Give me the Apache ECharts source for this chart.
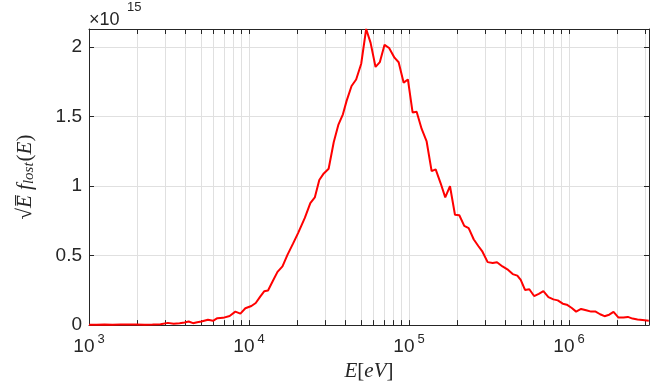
<!DOCTYPE html>
<html>
<head>
<meta charset="utf-8">
<script src="https://cdn.jsdelivr.net/npm/echarts@6/dist/echarts.min.js"></script>
<style>
html,body{margin:0;padding:0;background:#fff;}
#chart{width:665px;height:387px;}
</style>
</head>
<body>
<div id="chart"></div>
<script>
// Energy grid (eV)
const energy = [1000, 1114, 1250, 1403, 1574, 1766, 1982, 2223, 2495, 2799,
  3112, 3380, 3683, 3962, 4198, 4467, 4746, 5039, 5539, 5955,
  6343, 6877, 7568, 8217, 8834, 9492, 10350, 11020, 11750, 12440,
  13150, 14060, 15070, 16190, 17390, 18840, 20260, 22330, 24170, 25780,
  27500, 29330, 31460, 33870, 36160, 38630, 40740, 43750, 46740, 50270,
  53990, 57540, 61790, 65750, 70340, 75120, 81150, 86160, 92590, 98420,
  105300, 111600, 120000, 128900, 138500, 146800, 157700, 168500, 180400, 193800,
  206300, 221500, 236000, 254100, 271100, 287900, 310200, 333500, 354800, 384000,
  411900, 444800, 475400, 499300, 531000, 564900, 605200, 647400, 691800, 743500,
  798900, 850800, 914400, 968500, 1041000, 1108000, 1190000, 1280000, 1375000, 1467000,
  1565000, 1667000, 1784000, 1898000, 2039000, 2190000, 2333000, 2494000, 2680000, 2878000,
  3155000];
// sqrt(E) f_lost(E), in units of 1e15
const flux = [0.003, 0.002, 0.004, 0.003, 0.005, 0.004, 0.005, 0.003, 0.004, 0.006,
  0.016, 0.010, 0.014, 0.019, 0.026, 0.014, 0.020, 0.026, 0.038, 0.031,
  0.050, 0.052, 0.066, 0.097, 0.083, 0.121, 0.137, 0.159, 0.205, 0.243,
  0.249, 0.315, 0.383, 0.422, 0.505, 0.586, 0.662, 0.771, 0.878, 0.918,
  1.044, 1.091, 1.125, 1.317, 1.440, 1.516, 1.613, 1.720, 1.767, 1.880,
  2.130, 2.030, 1.857, 1.892, 2.016, 1.993, 1.924, 1.891, 1.744, 1.767,
  1.530, 1.535, 1.411, 1.321, 1.108, 1.120, 1.020, 0.919, 0.999, 0.794,
  0.790, 0.714, 0.698, 0.616, 0.569, 0.528, 0.453, 0.447, 0.452, 0.422,
  0.401, 0.367, 0.356, 0.325, 0.253, 0.258, 0.209, 0.225, 0.244, 0.201,
  0.185, 0.178, 0.154, 0.147, 0.123, 0.097, 0.116, 0.107, 0.097, 0.097,
  0.078, 0.064, 0.075, 0.095, 0.054, 0.054, 0.059, 0.047, 0.040, 0.036,
  0.031];
const xLabelValues = [1000, 10000, 100000, 1000000];
const xTickValues = [1000, 2000, 3000, 4000, 5000, 6000, 7000, 8000, 9000,
  10000, 20000, 30000, 40000, 50000, 60000, 70000, 80000, 90000,
  100000, 200000, 300000, 400000, 500000, 600000, 700000, 800000, 900000,
  1000000, 2000000, 3000000];
const yTickValues = [0, 0.5, 1, 1.5, 2];
const xMin = 1000, xMax = 3162278, yMin = 0, yMax = 2.13;

const txt = '#262626';
const gridColor = '#e0e0e0';
const sans = "Liberation Sans";
const serif = "Liberation Serif";

const chart = echarts.init(document.getElementById('chart'), null, {renderer: 'canvas'});

function xFmt(v) {
  const e = Math.round(Math.log10(v));
  return '{b|10}{e|' + e + '}';
}

const tickStyle = {color: txt, width: 1};

const option = {
  animation: false,
  backgroundColor: '#fff',
  textStyle: {fontFamily: sans},
  grid: {left: 89, right: 16, top: 29, bottom: 59, containLabel: false},
  xAxis: [{
    type: 'log', logBase: 10, min: xMin, max: xMax, position: 'bottom',
    axisLine: {show: true, onZero: false, lineStyle: {color: txt, width: 1}},
    axisTick: {show: true, inside: true, length: 5, customValues: xTickValues, lineStyle: tickStyle},
    minorTick: {show: false},
    splitLine: {show: true, lineStyle: {color: gridColor, width: 1}},
    axisLabel: {
      customValues: xLabelValues, margin: 8, color: txt, formatter: xFmt,
      fontFamily: sans, fontSize: 19,
      showMinLabel: true, showMaxLabel: true, hideOverlap: false,
      rich: {
        b: {fontSize: 19, fontFamily: sans, color: txt},
        e: {fontSize: 13, fontFamily: sans, color: txt, padding: [0, 0, 14, 3]}
      }
    },
    name: '{i|E}{n|[}{i|eV}{n|]}',
    nameLocation: 'middle', nameGap: 32,
    nameTextStyle: {
      rich: {
        i: {fontSize: 21, fontFamily: serif, fontStyle: 'italic', color: txt},
        n: {fontSize: 21, fontFamily: serif, color: txt}
      }
    }
  }, {
    type: 'log', logBase: 10, min: xMin, max: xMax, position: 'top',
    axisLine: {show: true, onZero: false, lineStyle: {color: txt, width: 1}},
    axisTick: {show: true, inside: true, length: 5, customValues: xTickValues, lineStyle: tickStyle},
    axisLabel: {show: false},
    splitLine: {show: false}
  }],
  yAxis: [{
    type: 'value', min: yMin, max: yMax, position: 'left',
    axisLine: {show: true, onZero: false, lineStyle: {color: txt, width: 1}},
    axisTick: {show: true, inside: true, length: 5, customValues: yTickValues, lineStyle: tickStyle},
    splitLine: {show: true, lineStyle: {color: gridColor, width: 1}},
    axisLabel: {customValues: yTickValues, margin: 7, color: txt, fontSize: 19, fontFamily: sans},
    name: '{n|\u221A}{i|E\u0305}{n| }{i|f}{s|lost}{n|(}{i|E}{n|)}',
    nameLocation: 'middle', nameRotate: 90, nameGap: 52,
    nameTextStyle: {
      rich: {
        i: {fontSize: 21, fontFamily: serif, fontStyle: 'italic', color: txt},
        n: {fontSize: 21, fontFamily: serif, color: txt},
        s: {fontSize: 15, fontFamily: serif, fontStyle: 'italic', color: txt, padding: [9, 1, 0, 0]}
      }
    }
  }, {
    type: 'value', min: yMin, max: yMax, position: 'right',
    axisLine: {show: true, onZero: false, lineStyle: {color: txt, width: 1}},
    axisTick: {show: true, inside: true, length: 5, customValues: yTickValues, lineStyle: tickStyle},
    axisLabel: {show: false},
    splitLine: {show: false}
  }],
  graphic: [{
    type: 'text', left: 89, top: 11,
    style: {text: '\u00D710', fontSize: 18, fontFamily: sans, fill: txt}
  }, {
    type: 'text', left: 127, top: 1,
    style: {text: '15', fontSize: 13, fontFamily: sans, fill: txt}
  }],
  series: [{
    type: 'line',
    xAxisIndex: 0, yAxisIndex: 0,
    data: energy.map((e, i) => [e, flux[i]]),
    showSymbol: false, symbol: 'none',
    lineStyle: {color: '#ff0000', width: 2},
    itemStyle: {color: '#ff0000'},
    clip: true,
    z: 5
  }]
};
chart.setOption(option);
</script>
</body>
</html>
